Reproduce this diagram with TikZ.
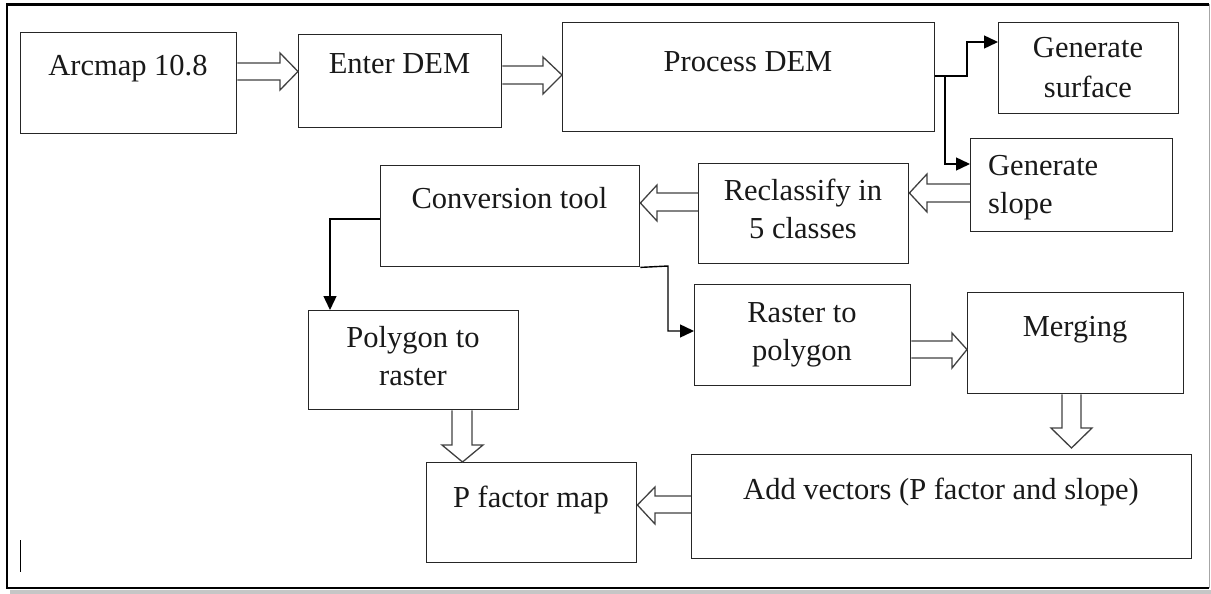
\documentclass[tikz,border=0pt]{standalone}
\usepackage{fontspec}
\setmainfont{Liberation Serif}
\usetikzlibrary{arrows.meta,calc}
\newcommand\boxat[5]{\node[box, minimum width={(#4-#2)*1pt}, minimum height={(#5-#3)*1pt}, anchor=north west] (#1) at (#2,#3) {};}
\begin{document}
\begin{tikzpicture}[x=1pt,y=-1pt,
  box/.style={draw=black!85, line width=1.4pt, inner sep=0pt},
  lbl/.style={anchor=base, inner sep=0pt, text=black!90, font=\fontsize{30.5}{38}\selectfont},
  lblw/.style={lbl, anchor=base west},
  hollow/.style={draw=black!75, line width=1.3pt, line join=miter},
  conn/.style={draw=black, line width=1.4pt, -{Triangle[length=14pt,width=13pt]}},
]
\useasboundingbox (0,0) rectangle (1211,594);
% frame
\fill[gray!45] (10,589.5) rectangle (1211,593.5);
\draw[gray!70, line width=1pt] (1209,4.5) -- (1209,588);
\draw[black, line width=2.6pt] (1209,4.5) -- (7,4.5) -- (7,588) -- (1209,588);
\draw[black, line width=1pt] (20,540) -- (20,572);

% boxes
\boxat{arc}{20}{32}{236}{133}
\boxat{ent}{298}{34}{501}{127}
\boxat{proc}{562}{22}{934}{131}
\boxat{surf}{998}{22}{1178}{113}
\boxat{slope}{970}{138}{1172}{231}
\boxat{recl}{698}{163}{908}{263}
\boxat{conv}{380}{165}{639}{266}
\boxat{poly}{308}{310}{518}{409}
\boxat{rast}{694}{284}{910}{385}
\boxat{merg}{967}{292}{1183}{393}
\boxat{addv}{691}{454}{1191}{558}
\boxat{pfac}{426}{462}{636}{562}

% texts
\node[lbl] (arcT) at (128,76) {Arcmap 10.8};
\node[lbl] (entT) at (399.5,74) {Enter DEM};
\node[lbl] (procT) at (748,72) {Process DEM};
\node[lbl] (surfT1) at (1088,58) {Generate};
\node[lbl] (surfT2) at (1088,97) {surface};
\node[lblw] (slopeT1) at (988,175) {Generate};
\node[lblw] (slopeT2) at (988,213) {slope};
\node[lbl] (reclT1) at (803,200) {Reclassify in};
\node[lbl] (reclT2) at (803,238) {5 classes};
\node[lbl] (convT) at (509.5,208) {Conversion tool};
\node[lbl] (polyT1) at (413,347) {Polygon to};
\node[lbl] (polyT2) at (413,385) {raster};
\node[lbl] (rastT1) at (802,322) {Raster to};
\node[lbl] (rastT2) at (802,360) {polygon};
\node[lbl] (mergT) at (1075,336) {Merging};
\node[lbl] (addvT) at (941,499) {Add vectors (P factor and slope)};
\node[lbl] (pfacT) at (531,507) {P factor map};

% hollow block arrows
\draw[hollow] (arc.east |- 0,63) -- (280,63) -- (280,53) -- (ent.west |- 0,71.5) -- (280,90) -- (280,80) -- (arc.east |- 0,80);
\draw[hollow] (ent.east |- 0,66) -- (543,66) -- (543,57) -- (proc.west |- 0,75) -- (543,94) -- (543,84) -- (ent.east |- 0,84);
\draw[hollow] (rast.east |- 0,341) -- (952,341) -- (952,333) -- (merg.west |- 0,349.5) -- (952,368) -- (952,358) -- (rast.east |- 0,358);
\draw[hollow] (slope.west |- 0,184) -- (927,184) -- (927,174) -- (recl.east |- 0,193) -- (927,212) -- (927,202) -- (slope.west |- 0,202);
\draw[hollow] (recl.west |- 0,193) -- (657,193) -- (657,185) -- (conv.east |- 0,203) -- (657,221) -- (657,211) -- (recl.west |- 0,211);
\draw[hollow] (addv.west |- 0,496) -- (655,496) -- (655,487) -- (pfac.east |- 0,505) -- (655,524) -- (655,513) -- (addv.west |- 0,513);
\draw[hollow] (poly.south -| 452,0) -- (452,445) -- (442,445) -- (pfac.north -| 462.5,0) -- (483,445) -- (472,445) -- (poly.south -| 472,0);
\coordinate (mtip) at (1071.5,448);
\draw[hollow] (merg.south -| 1062,0) -- (1062,428) -- (1051,428) -- (mtip) -- (1092,428) -- (1081,428) -- (merg.south -| 1081,0);

% line connectors
\coordinate (br) at (945,76);
\draw[conn] (proc.east |- 0,76) -- (967,76) -- (967,42) -- (surf.west |- 0,42);
\draw[conn] (br) -- (945,164) -- (slope.west |- 0,164);
\draw[conn] (conv.west |- 0,219) -- (330,219) -- (poly.north -| 330,0);
\draw[conn] (conv.south east) -- (668,266) -- (668,331) -- (rast.west |- 0,331);
\end{tikzpicture}
\end{document}
